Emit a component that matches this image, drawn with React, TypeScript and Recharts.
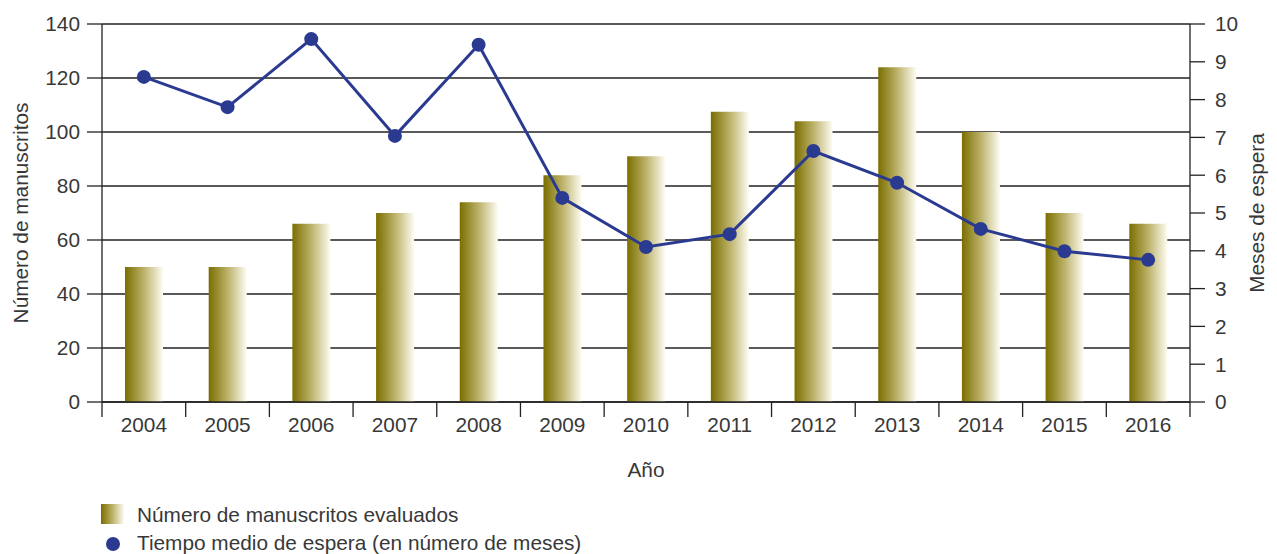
import { ComposedChart, Bar, Line, XAxis, YAxis, CartesianGrid, Legend } from "recharts";

const years = ["2004", "2005", "2006", "2007", "2008", "2009", "2010", "2011", "2012", "2013", "2014", "2015", "2016"];
const manuscritos = [50, 50, 66, 70, 74, 84, 91, 107.5, 104, 124, 100, 70, 66];
const mesesEspera = [8.6, 7.8, 9.6, 7.04, 9.45, 5.4, 4.1, 4.44, 6.64, 5.8, 4.58, 3.99, 3.76];
const leftTicks = [0, 20, 40, 60, 80, 100, 120, 140];
const rightTicks = [0, 1, 2, 3, 4, 5, 6, 7, 8, 9, 10];

const data = years.map((y, i) => ({ year: y, manuscritos: manuscritos[i], meses: mesesEspera[i] }));

const W = 1261;
const H = 546;
const LEFT_W = 94;
const RIGHT_W = 79;
const BAND = (W - LEFT_W - RIGHT_W) / years.length;
const FONT = "'Liberation Sans', Arial, sans-serif";
const FS = 20.8;
const TXT = "#383838";
const INK = "#222";
const BLUE = "#2b3a91";

function YearTick(props: any) {
  const { x, y, payload, index } = props;
  const half = BAND / 2;
  return (
    <g>
      <line x1={x - half} x2={x - half} y1={y} y2={y + 15} stroke={INK} strokeWidth={1.3} />
      {index === years.length - 1 && (
        <line x1={x + half} x2={x + half} y1={y} y2={y + 15} stroke={INK} strokeWidth={1.3} />
      )}
      <text x={x} y={y + 30} textAnchor="middle" fontSize={FS} fill={TXT} fontFamily={FONT}>
        {payload.value}
      </text>
    </g>
  );
}

function LegendBox() {
  return (
    <div style={{ position: "relative", height: 52, width: 640, fontFamily: FONT, fontSize: FS, color: TXT }}>
      <svg width={40} height={52} style={{ position: "absolute", left: 90, top: 0 }}>
        <defs>
          <linearGradient id="legGrad" x1="0" y1="0" x2="1" y2="0">
            <stop offset="0%" stopColor="#7a6e00" />
            <stop offset="50%" stopColor="#bdb26a" />
            <stop offset="100%" stopColor="#fdfcf3" />
          </linearGradient>
        </defs>
        <rect x={3} y={2} width={23} height={20} fill="url(#legGrad)" />
        <circle cx={15} cy={42} r={7} fill={BLUE} />
      </svg>
      <div style={{ position: "absolute", left: 129, top: 1, lineHeight: "24px" }}>Número de manuscritos evaluados</div>
      <div style={{ position: "absolute", left: 129, top: 29, lineHeight: "24px" }}>Tiempo medio de espera (en número de meses)</div>
    </div>
  );
}

export default function App() {
  return (
    <div style={{ fontFamily: FONT }}>
      <ComposedChart width={W} height={H} data={data} margin={{ top: 16, right: 0, bottom: 0, left: 0 }}>
        <defs>
          <linearGradient id="barGrad" x1="0" y1="0" x2="1" y2="0">
            <stop offset="0%" stopColor="#7a6e00" />
            <stop offset="50%" stopColor="#bdb26a" />
            <stop offset="100%" stopColor="#fdfcf3" />
          </linearGradient>
        </defs>
        <CartesianGrid yAxisId="left" vertical={false} stroke={INK} strokeWidth={1.3} />
        <XAxis
          dataKey="year"
          height={100}
          tickSize={0}
          tickMargin={0}
          tickLine={false}
          axisLine={{ stroke: INK, strokeWidth: 1.3 }}
          tick={<YearTick />}
          interval={0}
          label={{ value: "Año", position: "insideBottom", offset: 25, fontSize: FS, fill: TXT }}
        />
        <YAxis
          yAxisId="left"
          width={LEFT_W}
          domain={[0, 140]}
          ticks={leftTicks}
          tickSize={15}
          tickMargin={7}
          tickLine={{ stroke: INK, strokeWidth: 1.3 }}
          axisLine={{ stroke: INK, strokeWidth: 1.3 }}
          tick={{ fontSize: FS, fill: TXT }}
          label={{ value: "Número de manuscritos", angle: -90, position: "insideLeft", offset: 13, fontSize: FS, fill: TXT, style: { textAnchor: "middle" } }}
        />
        <YAxis
          yAxisId="right"
          orientation="right"
          width={RIGHT_W}
          domain={[0, 10]}
          ticks={rightTicks}
          tickSize={15}
          tickMargin={10}
          tickLine={{ stroke: INK, strokeWidth: 1.3 }}
          axisLine={{ stroke: INK, strokeWidth: 1.3 }}
          tick={{ fontSize: FS, fill: TXT }}
          label={{ value: "Meses de espera", angle: -90, position: "insideRight", offset: 12, fontSize: FS, fill: TXT, style: { textAnchor: "middle" } }}
        />
        <Legend verticalAlign="bottom" align="left" content={<LegendBox />} wrapperStyle={{ left: 0, bottom: 0, height: 52 }} />
        <Bar yAxisId="left" dataKey="manuscritos" barSize={38} fill="url(#barGrad)" isAnimationActive={false} />
        <Line
          yAxisId="right"
          dataKey="meses"
          type="linear"
          stroke={BLUE}
          strokeWidth={3}
          dot={{ r: 7, fill: BLUE, stroke: BLUE, strokeWidth: 0 }}
          activeDot={false}
          isAnimationActive={false}
        />
      </ComposedChart>
    </div>
  );
}
